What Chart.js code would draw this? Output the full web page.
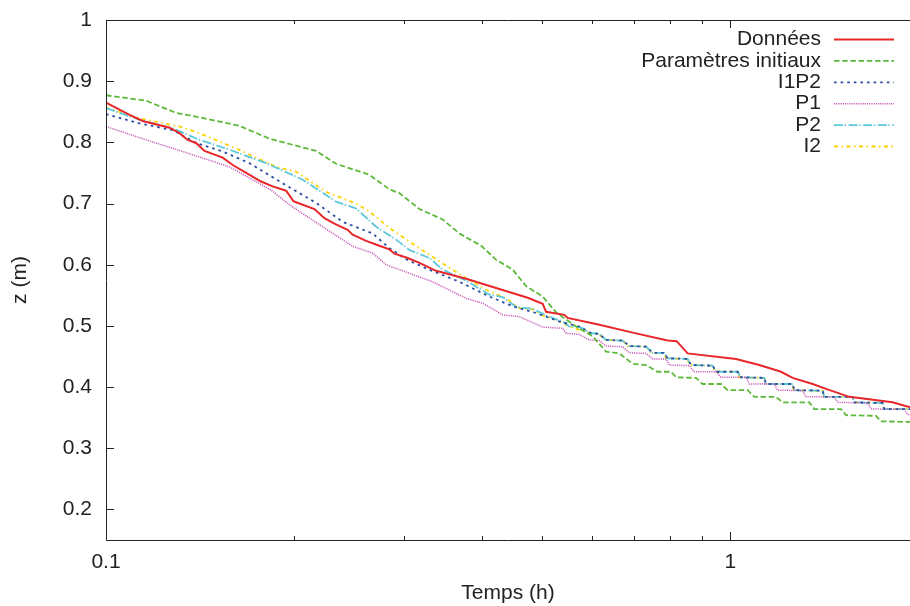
<!DOCTYPE html>
<html>
<head>
<meta charset="utf-8">
<script src="https://cdn.jsdelivr.net/npm/chart.js@4/dist/chart.umd.min.js"></script>
<style>
  html, body { margin: 0; padding: 0; background: #ffffff; }
  #wrap { position: relative; width: 910px; height: 606px; }
</style>
</head>
<body>
<div id="wrap"><canvas id="c"></canvas></div>
<script>
// ---- Data (time in hours, z in metres) ----
const seriesLabels = ['Données', 'Paramètres initiaux', 'I1P2', 'P1', 'P2', 'I2'];

const donneesT = [0.1, 0.1091, 0.1145, 0.1264, 0.1311, 0.1352, 0.1394, 0.1438, 0.1538, 0.1596, 0.1677, 0.1772, 0.1849, 0.1943, 0.1996, 0.2066, 0.2157, 0.2238, 0.2322, 0.2438, 0.2484, 0.2610, 0.2741, 0.2845, 0.2897, 0.3043, 0.3177, 0.3378, 0.3774, 0.4216, 0.4737, 0.5006, 0.5069, 0.5423, 0.5489, 0.6169, 0.6976, 0.7936, 0.8204, 0.8544, 1.0213, 1.1128, 1.2056, 1.2584, 1.3547, 1.4233, 1.5510, 1.8193, 1.94];
const donneesZ = [0.865, 0.845, 0.835, 0.824, 0.815, 0.804, 0.799, 0.786, 0.775, 0.763, 0.750, 0.736, 0.728, 0.721, 0.704, 0.698, 0.691, 0.676, 0.667, 0.657, 0.649, 0.639, 0.631, 0.625, 0.618, 0.611, 0.603, 0.590, 0.577, 0.562, 0.546, 0.536, 0.523, 0.518, 0.513, 0.502, 0.489, 0.476, 0.475, 0.455, 0.446, 0.436, 0.425, 0.415, 0.405, 0.397, 0.384, 0.375, 0.367];

const initT = [0.1, 0.1160, 0.1296, 0.1411, 0.1636, 0.1827, 0.2171, 0.2336, 0.2642, 0.2845, 0.2951, 0.3177, 0.3461, 0.3682, 0.3990, 0.4216, 0.4482, 0.4709, 0.5006, 0.5260, 0.5662, 0.6019, 0.6323, 0.6642, 0.6976, 0.7329, 0.7641, 0.8036, 0.8185, 0.8813, 0.9029, 0.9663, 0.9901, 1.0659, 1.0925, 1.1836, 1.2127, 1.3383, 1.3632, 1.5042, 1.5322, 1.7116, 1.7434, 1.94];
const initZ = [0.877, 0.868, 0.848, 0.841, 0.827, 0.806, 0.786, 0.765, 0.747, 0.723, 0.717, 0.691, 0.674, 0.651, 0.631, 0.608, 0.592, 0.565, 0.548, 0.522, 0.499, 0.483, 0.458, 0.455, 0.438, 0.436, 0.425, 0.425, 0.416, 0.415, 0.405, 0.405, 0.395, 0.395, 0.384, 0.384, 0.375, 0.375, 0.364, 0.364, 0.354, 0.353, 0.344, 0.343];

const i1p2T = [0.1, 0.1131, 0.1279, 0.1394, 0.1538, 0.1697, 0.1919, 0.2171, 0.2394, 0.2674, 0.2845, 0.3025, 0.3256, 0.3682, 0.4113, 0.4482, 0.4886, 0.5324, 0.5731, 0.5983, 0.6169, 0.6323, 0.6723, 0.6892, 0.7329, 0.7510, 0.7840, 0.7936, 0.8544, 0.8651, 0.9369, 0.9486, 1.0273, 1.0403, 1.1336, 1.1407, 1.2584, 1.2663, 1.4056, 1.4144, 1.5700, 1.5799, 1.7537, 1.7647, 1.94];
const i1p2Z = [0.846, 0.831, 0.820, 0.799, 0.785, 0.766, 0.733, 0.701, 0.670, 0.651, 0.627, 0.609, 0.594, 0.572, 0.548, 0.532, 0.521, 0.507, 0.499, 0.488, 0.487, 0.477, 0.476, 0.467, 0.466, 0.456, 0.456, 0.447, 0.446, 0.436, 0.435, 0.425, 0.425, 0.416, 0.415, 0.405, 0.405, 0.395, 0.394, 0.384, 0.384, 0.375, 0.374, 0.364, 0.364];

const p1T = [0.1, 0.1160, 0.1327, 0.1577, 0.1839, 0.1967, 0.2224, 0.2484, 0.2674, 0.2810, 0.3062, 0.3336, 0.3774, 0.4013, 0.4320, 0.4594, 0.5006, 0.5389, 0.5457, 0.5731, 0.5946, 0.6169, 0.6323, 0.6723, 0.6892, 0.7329, 0.7510, 0.7889, 0.7985, 0.8597, 0.8757, 0.9486, 0.9663, 1.0596, 1.0725, 1.1762, 1.1906, 1.3056, 1.3221, 1.4675, 1.4855, 1.6594, 1.6803, 1.9000, 1.9232, 1.94];
const p1Z = [0.826, 0.804, 0.785, 0.760, 0.722, 0.698, 0.662, 0.630, 0.619, 0.600, 0.586, 0.572, 0.545, 0.537, 0.518, 0.515, 0.498, 0.496, 0.488, 0.486, 0.477, 0.476, 0.467, 0.466, 0.456, 0.455, 0.446, 0.446, 0.436, 0.435, 0.425, 0.425, 0.416, 0.416, 0.405, 0.405, 0.395, 0.394, 0.384, 0.384, 0.375, 0.374, 0.364, 0.364, 0.355, 0.355];

const p2T = [0.1, 0.1131, 0.1279, 0.1411, 0.1577, 0.1805, 0.2066, 0.2336, 0.2515, 0.2708, 0.2915, 0.3062, 0.3296, 0.3461, 0.3774, 0.4113, 0.4320, 0.4538, 0.4825, 0.5069, 0.5389, 0.5524, 0.5767, 0.5983, 0.6169, 0.6323, 0.6723, 0.6892, 0.7329, 0.7510, 0.7840, 0.7936, 0.8544, 0.8651, 0.9369, 0.9486, 1.0273, 1.0403, 1.1336, 1.1407, 1.2584, 1.2663, 1.4056, 1.4144, 1.5700, 1.5799, 1.7537, 1.7647, 1.94];
const p2Z = [0.856, 0.837, 0.823, 0.804, 0.788, 0.766, 0.739, 0.703, 0.692, 0.662, 0.641, 0.624, 0.611, 0.592, 0.574, 0.551, 0.547, 0.531, 0.528, 0.517, 0.507, 0.499, 0.497, 0.488, 0.487, 0.477, 0.476, 0.467, 0.466, 0.456, 0.456, 0.447, 0.446, 0.436, 0.435, 0.425, 0.425, 0.416, 0.415, 0.405, 0.405, 0.395, 0.394, 0.384, 0.384, 0.375, 0.374, 0.364, 0.364];

const i2T = [0.1, 0.1131, 0.1311, 0.1411, 0.1616, 0.1873, 0.2016, 0.2252, 0.2515, 0.2642, 0.2845, 0.2951, 0.3177, 0.3461, 0.3774, 0.4064, 0.4374, 0.4594, 0.4825, 0.5006, 0.5260, 0.5524, 0.5946, 0.6169, 0.6290, 0.6723, 0.6860, 0.7329, 0.7470, 0.7840, 0.7889, 0.8544, 0.8597, 0.9369, 0.9430, 1.0273, 1.0340, 1.1336, 1.1380, 1.2584, 1.2620, 1.4056, 1.4100, 1.5700, 1.5750, 1.7537, 1.7600, 1.94];
const i2Z = [0.857, 0.839, 0.826, 0.815, 0.790, 0.760, 0.752, 0.719, 0.700, 0.687, 0.660, 0.649, 0.627, 0.602, 0.578, 0.559, 0.545, 0.529, 0.527, 0.517, 0.510, 0.499, 0.488, 0.487, 0.477, 0.476, 0.467, 0.466, 0.456, 0.456, 0.447, 0.446, 0.436, 0.435, 0.425, 0.425, 0.416, 0.415, 0.405, 0.405, 0.395, 0.394, 0.384, 0.384, 0.375, 0.374, 0.364, 0.364];

// ---- Axis ticks ----
const xMajorTicks = [0.1, 1];
const xMinorTicks = [0.2, 0.3, 0.4, 0.5, 0.6, 0.7, 0.8, 0.9];
const xTickLabels = ['0.1', '1'];
const yTicks = [0.2, 0.3, 0.4, 0.5, 0.6, 0.7, 0.8, 0.9, 1.0];
const yTickLabels = ['0.2', '0.3', '0.4', '0.5', '0.6', '0.7', '0.8', '0.9', '1'];

// ---- Styles ----
const FONT = "'Liberation Sans', Arimo, Helvetica, Arial, sans-serif";
const TEXT = '#222222';
const styles = [
  { color: '#e8272b', width: 2.0, dash: [] },
  { color: '#5db93a', width: 1.8, dash: [5.5, 2.7] },
  { color: '#2c4c9f', width: 1.8, dash: [2.6, 4.0] },
  { color: '#c653b6', width: 1.5, dash: [1.1, 1.1] },
  { color: '#5cc8dc', width: 1.8, dash: [9, 1.6, 1.4, 2.6] },
  { color: '#fcd200', width: 1.8, dash: [4, 3.5, 1.5, 3.5] }
];

const pairs = (t, z) => t.slice(0, Math.min(t.length, z.length)).map((v, i) => ({ x: v, y: z[i] }));
const seriesData = [
  pairs(donneesT, donneesZ), pairs(initT, initZ), pairs(i1p2T, i1p2Z),
  pairs(p1T, p1Z), pairs(p2T, p2Z), pairs(i2T, i2Z)
];

const datasets = seriesLabels.map((lab, i) => ({
  label: lab,
  data: seriesData[i],
  borderColor: styles[i].color,
  backgroundColor: styles[i].color,
  borderWidth: styles[i].width,
  borderDash: styles[i].dash,
  borderCapStyle: 'butt',
  borderJoinStyle: 'miter',
  pointRadius: 0,
  pointHoverRadius: 0,
  tension: 0,
  fill: false,
  order: i === 0 ? 0 : 1
}));

const near = (a, b) => Math.abs(a - b) < 1e-6;

const framePlugin = {
  id: 'frameTicks',
  afterDatasetsDraw(chart) {
    const { ctx, chartArea: a, scales } = chart;
    const xs = scales.x, ys = scales.y;
    ctx.save();
    ctx.strokeStyle = '#222222';
    ctx.lineWidth = 1;
    ctx.setLineDash([]);
    ctx.beginPath();
    ctx.moveTo(a.left + 0.5, a.top + 0.5);
    ctx.lineTo(a.left + 0.5, a.bottom + 0.5);
    ctx.lineTo(a.right + 2, a.bottom + 0.5);
    ctx.moveTo(a.left + 0.5, a.top + 0.5);
    ctx.lineTo(a.right + 2, a.top + 0.5);
    const xt = xMajorTicks.map(v => [v, 8]).concat(xMinorTicks.map(v => [v, 4]));
    xt.forEach(([v, len]) => {
      const px = Math.round(xs.getPixelForValue(v)) + 0.5;
      ctx.moveTo(px, a.bottom);
      ctx.lineTo(px, a.bottom - len);
      ctx.moveTo(px, a.top);
      ctx.lineTo(px, a.top + len);
    });
    yTicks.forEach(v => {
      const py = Math.round(ys.getPixelForValue(v)) + 0.5;
      ctx.moveTo(a.left, py);
      ctx.lineTo(a.left + 8, py);
    });
    ctx.stroke();
    ctx.restore();
  }
};

const legendPlugin = {
  id: 'gnuLegend',
  afterDraw(chart) {
    const { ctx } = chart;
    const textRight = 821, lineX0 = 834, lineX1 = 894, y0 = 39.5, dy = 21.4;
    ctx.save();
    ctx.font = '21px ' + FONT;
    ctx.textAlign = 'right';
    ctx.textBaseline = 'middle';
    chart.data.datasets.forEach((ds, i) => {
      const y = y0 + i * dy;
      ctx.fillStyle = TEXT;
      ctx.fillText(ds.label, textRight, y);
      ctx.strokeStyle = ds.borderColor;
      ctx.lineWidth = ds.borderWidth;
      ctx.setLineDash(ds.borderDash || []);
      ctx.lineCap = 'butt';
      ctx.beginPath();
      ctx.moveTo(lineX0, y);
      ctx.lineTo(lineX1, y);
      ctx.stroke();
    });
    ctx.restore();
  }
};

Chart.defaults.font.family = FONT;
Chart.defaults.color = TEXT;

new Chart(document.getElementById('c'), {
  type: 'line',
  data: { datasets },
  options: {
    responsive: true,
    maintainAspectRatio: false,
    animation: false,
    events: [],
    layout: { padding: { top: 20, right: 0, left: 0, bottom: 0 } },
    plugins: { legend: { display: false }, tooltip: { enabled: false } },
    scales: {
      x: {
        type: 'logarithmic',
        min: 0.1,
        max: 1.94,
        grid: { display: false, drawTicks: false },
        border: { display: false },
        afterBuildTicks: (s) => {
          s.ticks = xMajorTicks.concat(xMinorTicks).sort((a, b) => a - b).map(v => ({ value: v, major: xMajorTicks.includes(v) }));
        },
        afterFit: (s) => { s.height = 66; s.paddingLeft = 0; s.paddingRight = 0; },
        ticks: {
          autoSkip: false,
          maxRotation: 0,
          minRotation: 0,
          padding: 10,
          color: TEXT,
          font: { size: 21, family: FONT },
          callback: (v) => {
            const k = xMajorTicks.findIndex(m => near(m, v));
            return k >= 0 ? xTickLabels[k] : '';
          }
        },
        title: { display: true, text: 'Temps (h)', color: TEXT, font: { size: 21, family: FONT }, padding: { top: 0, bottom: 0 } }
      },
      y: {
        type: 'linear',
        min: 0.15,
        max: 1,
        grid: { display: false, drawTicks: false },
        border: { display: false },
        afterBuildTicks: (s) => { s.ticks = yTicks.map(v => ({ value: v })); },
        afterFit: (s) => { s.width = 106; s.paddingTop = 0; s.paddingBottom = 0; },
        ticks: {
          autoSkip: false,
          padding: 14,
          color: TEXT,
          font: { size: 21, family: FONT },
          callback: (v) => {
            const k = yTicks.findIndex(m => near(m, v));
            return k >= 0 ? yTickLabels[k] : '';
          }
        },
        title: { display: true, text: 'z (m)', color: TEXT, font: { size: 21, family: FONT }, padding: { top: 8, bottom: 0 } }
      }
    }
  },
  plugins: [framePlugin, legendPlugin]
});
</script>
</body>
</html>
